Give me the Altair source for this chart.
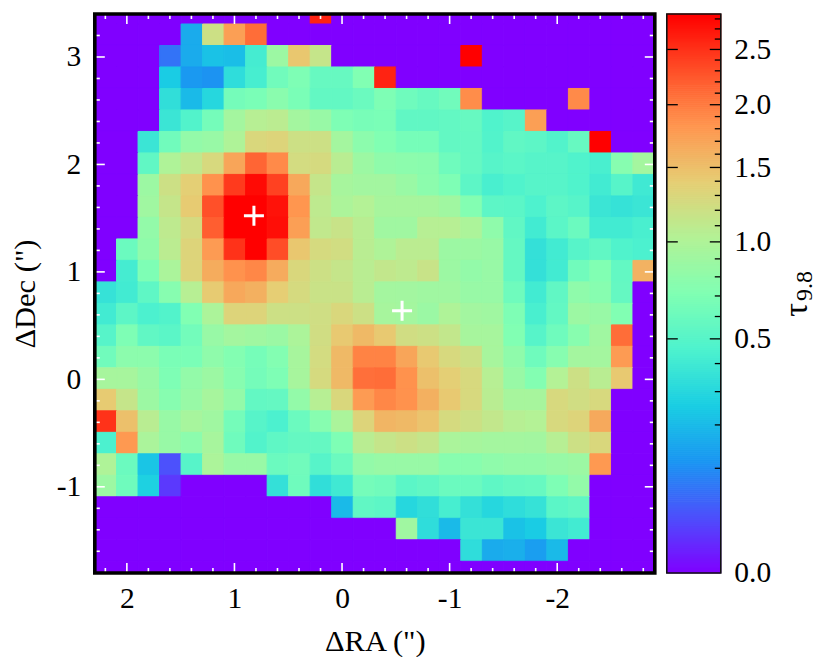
import altair as alt
import numpy as np
import pandas as pd

FONT = "Liberation Serif"

# optical depth per pixel, top row first, left (east) column first
tau_rows = [
 [0,0,0,0,0,0,0,0,0,0,2.6,0,0,0,0,0,0,0,0,0,0,0,0,0,0,0],
 [0,0,0,0,.16,1.2,1.75,2.1,0,0,0,0,0,0,0,0,0,0,0,0,0,0,0,0,0,0],
 [0,0,0,.065,.16,.22,.21,.42,.88,1.45,1.15,0,0,0,0,0,0,2.85,0,0,0,0,0,0,0,0],
 [0,0,0,.25,.12,.11,.33,.43,.63,.7,.58,.58,.72,2.6,0,0,0,0,0,0,0,0,0,0,0,0],
 [0,0,0,.34,.2,.3,.65,.68,.77,.68,.56,.56,.6,.7,.62,.58,.63,1.88,0,0,0,0,1.9,0,0,0],
 [0,0,0,.38,.48,.65,.93,1.05,1.08,.93,.85,.7,.67,.68,.55,.55,.56,.58,.47,.5,1.75,0,0,0,0,0],
 [0,0,.38,.63,.82,.85,1.0,1.3,1.33,1.2,1.2,.93,.78,.72,.66,.66,.56,.57,.48,.55,.53,.48,.58,2.85,0,0],
 [0,0,.55,1.0,1.12,1.28,1.7,2.15,1.9,1.25,1.27,1.07,.88,.8,.78,.77,.62,.57,.5,.52,.5,.5,.47,.44,.75,.93],
 [0,0,.88,1.2,1.38,1.85,2.45,2.78,2.4,1.68,1.15,.95,.92,.92,.86,.78,.7,.53,.44,.47,.5,.5,.47,.41,.5,.4],
 [0,0,.9,1.15,1.42,2.3,2.85,2.85,2.72,1.82,1.1,.98,1.03,.95,.95,.95,.9,.73,.53,.52,.46,.53,.5,.38,.36,.38],
 [0,0,.82,1.1,1.27,2.2,2.85,2.85,2.75,1.75,1.12,1.17,1.07,.9,.9,1.05,1.05,.98,.8,.55,.41,.52,.6,.41,.41,.44],
 [0,.6,.8,1.08,1.33,1.78,2.5,2.85,2.32,1.45,1.27,1.24,1.07,1.0,1.08,1.08,.88,.88,.85,.57,.35,.41,.5,.55,.47,.45],
 [0,.42,.7,.97,1.33,1.65,1.85,1.92,1.66,1.3,1.2,1.15,1.07,1.13,1.1,1.17,.88,.82,.85,.57,.35,.41,.63,.72,.56,1.6],
 [.36,.41,.54,.75,1.05,1.42,1.68,1.62,1.4,1.27,1.18,1.18,1.07,.93,.92,.9,.9,.85,.85,.62,.41,.55,.8,.75,.57,0],
 [.41,.53,.45,.48,.72,.98,1.33,1.33,1.2,1.2,1.22,1.3,1.2,.95,.93,.87,1.0,.92,.9,.7,.44,.56,.88,.85,.72,0],
 [.5,.7,.55,.52,.64,.85,.93,.9,.87,.98,1.23,1.43,1.55,1.43,1.23,1.2,1.13,.95,.95,.72,.5,.62,.76,.9,2.1,0],
 [.63,.78,.78,.68,.68,.8,.73,.66,.73,.95,1.25,1.55,1.95,1.95,1.7,1.43,1.28,1.2,.95,.8,.62,.75,.93,.93,1.78,0],
 [.95,.95,.85,.7,.82,.88,.75,.65,.7,.95,1.27,1.55,2.08,2.1,1.85,1.5,1.38,1.28,1.05,.85,.73,1.03,1.2,1.07,1.43,0],
 [1.42,1.15,.88,.75,.85,.95,.82,.56,.57,.82,1.05,1.3,1.78,1.92,1.85,1.62,1.43,1.28,1.07,.95,.95,1.28,1.23,1.28,0,0],
 [2.5,1.5,1.07,.85,.95,.9,.65,.5,.45,.6,.75,.97,1.33,1.58,1.55,1.47,1.27,1.2,1.13,1.05,1.03,1.28,1.33,1.67,0,0],
 [.45,1.8,.97,.85,.78,.95,.62,.48,.54,.57,.57,.7,1.07,1.15,1.2,1.15,.97,.95,.93,.93,.92,1.05,1.2,1.3,0,0],
 [1.0,.6,.23,.03,.5,.98,.85,.85,.6,.63,.5,.6,.82,.85,.85,.85,.76,.76,.8,.82,.82,.85,.88,1.8,0,0],
 [.88,.62,.27,.015,0,0,0,0,.35,.62,.34,.4,.65,.63,.52,.55,.6,.6,.54,.57,.58,.7,.82,0,0,0],
 [0,0,0,0,0,0,0,0,0,0,0,.2,.55,.53,.3,.34,.43,.35,.3,.33,.36,.52,.55,0,0,0],
 [0,0,0,0,0,0,0,0,0,0,0,0,0,0,.9,.33,.2,.38,.38,.22,.25,.38,.41,0,0,0],
 [0,0,0,0,0,0,0,0,0,0,0,0,0,0,0,0,0,.33,.16,.17,.13,.2,0,0,0,0],
 [0]*26,
]
ra_left = 2.296
dec_top = 3.507
cell = 0.2
ra_domain = [2.298, -2.907]
dec_domain = [-1.802, 3.40]

ra_major = [2, 1, 0, -1, -2]
ra_minor = [2.2, 1.8, 1.6, 1.4, 1.2, .8, .6, .4, .2, -.2, -.4, -.6, -.8, -1.2, -1.4, -1.6, -1.8, -2.2, -2.4, -2.6, -2.8]
dec_major = [3, 2, 1, 0, -1]
dec_minor = [3.2, 2.8, 2.6, 2.4, 2.2, 1.8, 1.6, 1.4, 1.2, .8, .6, .4, .2, -.2, -.4, -.6, -.8, -1.2, -1.4, -1.6]
cross_ra = [0.819, -0.558]
cross_dec = [1.522, 0.638]

cb_major = [0.0, 0.5, 1.0, 1.5, 2.0, 2.5]
cb_minor = [.1, .2, .3, .4, .6, .7, .8, .9, 1.1, 1.2, 1.3, 1.4, 1.6, 1.7, 1.8, 1.9, 2.1, 2.2, 2.3, 2.4, 2.6, 2.7, 2.8]
cb_top = 2.85

# matplotlib "rainbow" at t = 0, .1, ... 1; a square-root stretch over 0..2.85
rainbow = ["#8000ff", "#4d4ffc", "#1a96f2", "#1acee3", "#4df2ce", "#80ffb4",
           "#b3f296", "#e6ce74", "#ff964f", "#ff4f28", "#ff0000"]
stops = [cb_top * (i / 10) ** 2 for i in range(11)]
color_scale = alt.Scale(type="sqrt", domain=stops, range=rainbow, clamp=True, interpolate="rgb")

W, H = 560, 559
CW = 54
LAB = 29.5
TIT = 30.5

cells = pd.DataFrame([
    {"x0": ra_left - cell * c, "x1": ra_left - cell * (c + 1),
     "y0": dec_top - cell * r, "y1": dec_top - cell * (r + 1), "v": v}
    for r, row in enumerate(tau_rows) for c, v in enumerate(row)
])

xs = alt.Scale(domain=ra_domain, nice=False, zero=False)
ys = alt.Scale(domain=dec_domain, nice=False, zero=False)

x_axis = alt.Axis(
    title='ΔRA (")', values=ra_major, domain=False, ticks=False, grid=False,
    labelExpr='"" + datum.value', labelFont=FONT, labelFontSize=LAB, labelColor="black",
    labelPadding=12, titleFont=FONT, titleFontSize=TIT, titleFontWeight="normal",
    titleColor="black", titlePadding=13)
y_axis = alt.Axis(
    title='ΔDec (")', values=dec_major, domain=False, ticks=False, grid=False,
    labelExpr='"" + datum.value', labelFont=FONT, labelFontSize=LAB, labelColor="black",
    labelPadding=14, titleFont=FONT, titleFontSize=TIT, titleFontWeight="normal",
    titleColor="black", titlePadding=16)

base = alt.Chart(cells).mark_rect(clip=True, strokeWidth=1).encode(
    x=alt.X("x0:Q", scale=xs, axis=x_axis),
    x2="x1:Q",
    y=alt.Y("y0:Q", scale=ys, axis=y_axis),
    y2="y1:Q",
    color=alt.Color("v:Q", scale=color_scale, legend=None),
    stroke=alt.Stroke("v:Q", scale=color_scale, legend=None),
)


def xticks(vals, a, b):
    return alt.Chart(pd.DataFrame({"t": vals})).mark_rule(color="white", strokeWidth=1.6).encode(
        x=alt.X("t:Q", scale=xs, axis=x_axis), y=alt.value(a), y2=alt.value(b))


def yticks(vals, a, b):
    return alt.Chart(pd.DataFrame({"t": vals})).mark_rule(color="white", strokeWidth=1.6).encode(
        y=alt.Y("t:Q", scale=ys, axis=y_axis), x=alt.value(a), x2=alt.value(b))


frame = alt.Chart(pd.DataFrame({"a": [0]})).mark_rect(
    filled=False, stroke="black", strokeWidth=3.6, fillOpacity=0).encode(
    x=alt.value(0), x2=alt.value(W), y=alt.value(0), y2=alt.value(H))

crosses = alt.Chart(pd.DataFrame({"ra": cross_ra, "dec": cross_dec})).mark_point(
    shape="M-1,0L1,0M0,-1L0,1", size=400, stroke="white", strokeWidth=3, filled=False, opacity=1
).encode(x=alt.X("ra:Q", scale=xs, axis=x_axis), y=alt.Y("dec:Q", scale=ys, axis=y_axis))

heat = alt.layer(
    base,
    xticks(ra_major, 0, 10), xticks(ra_major, H - 10, H),
    xticks(ra_minor, 0, 5), xticks(ra_minor, H - 5, H),
    yticks(dec_major, 0, 10), yticks(dec_major, W - 10, W),
    yticks(dec_minor, 0, 5), yticks(dec_minor, W - 5, W),
    crosses, frame,
).properties(width=W, height=H)

# colour bar
levels = np.linspace(0, 1, 281) ** 2 * cb_top
bar = pd.DataFrame({"v0": levels[:-1], "v1": levels[1:], "v": (levels[:-1] + levels[1:]) / 2})
cs = alt.Scale(type="sqrt", domain=[0, cb_top], nice=False, zero=False)
c_axis = alt.Axis(
    orient="right", title=None, values=cb_major, format=".1f", domain=False, ticks=False,
    grid=False, labelFont=FONT, labelFontSize=LAB, labelColor="black", labelPadding=13)

bar_rects = alt.Chart(bar).mark_rect(strokeWidth=1).encode(
    x=alt.value(0), x2=alt.value(CW),
    y=alt.Y("v0:Q", scale=cs, axis=c_axis),
    y2="v1:Q",
    color=alt.Color("v:Q", scale=color_scale, legend=None),
    stroke=alt.Stroke("v:Q", scale=color_scale, legend=None),
)


def cbticks(vals, a, b):
    return alt.Chart(pd.DataFrame({"t": vals})).mark_rule(color="black", strokeWidth=1.3).encode(
        y=alt.Y("t:Q", scale=cs, axis=c_axis), x=alt.value(a), x2=alt.value(b))


bar_frame = alt.Chart(pd.DataFrame({"a": [0]})).mark_rect(
    filled=False, stroke="#111111", strokeWidth=1.6, fillOpacity=0).encode(
    x=alt.value(0), x2=alt.value(CW), y=alt.value(0), y2=alt.value(H))

tau = alt.Chart(pd.DataFrame({"s": ["τ"]})).mark_text(
    font=FONT, fontSize=34, angle=270, color="black", baseline="middle", align="center"
).encode(text="s:N", x=alt.value(130), y=alt.value(296))
sub = alt.Chart(pd.DataFrame({"s": ["9.8"]})).mark_text(
    font=FONT, fontSize=24, angle=270, color="black", baseline="middle", align="center"
).encode(text="s:N", x=alt.value(138), y=alt.value(272))

colorbar = alt.layer(
    bar_rects, cbticks(cb_major[1:], 0, 11), cbticks(cb_major[1:], CW - 11, CW),
    cbticks(cb_minor, CW - 6, CW), bar_frame, tau, sub,
).properties(width=CW, height=H)

chart = alt.hconcat(heat, colorbar, spacing=9).properties(
    padding={"left": 1.8, "top": 4, "right": 0, "bottom": 0}, background="white"
).configure_view(stroke=None)

chart.save("out.html", embed_options={"renderer": "svg", "actions": False})
